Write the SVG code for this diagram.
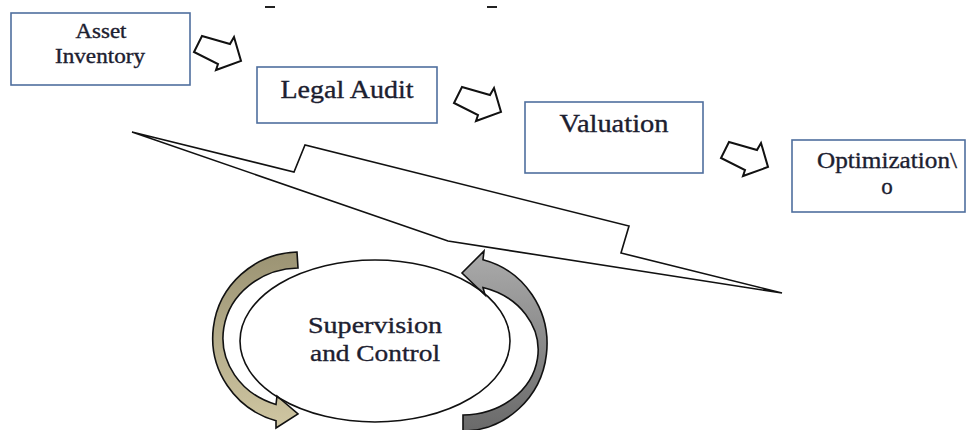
<svg xmlns="http://www.w3.org/2000/svg" width="966" height="430" viewBox="0 0 966 430">
<style>
.box{fill:#fff;stroke:#4f6f9e;stroke-width:1.6}
.lbl{font-family:"Liberation Serif","Times New Roman",serif;fill:#1c2030;stroke:#1c2030;stroke-width:0.35;text-anchor:middle}
.blk{fill:#fff;stroke:#111;stroke-width:2;stroke-linejoin:miter}
.ln{fill:none;stroke:#111;stroke-width:1.6;stroke-linejoin:miter}
</style>
<defs>
<path id="barrow" d="M0,0 L28,8 L32,1 L39,25 L14,34 L16,28 L-8,16 Z"/>
<linearGradient id="tan" x1="0" y1="0" x2="0" y2="1">
<stop offset="0" stop-color="#9b9373"/>
<stop offset="1" stop-color="#cfc6a2"/>
</linearGradient>
<linearGradient id="gray" x1="0" y1="0" x2="0" y2="1">
<stop offset="0" stop-color="#ababab"/>
<stop offset="1" stop-color="#6a6a6a"/>
</linearGradient>
</defs>
<rect width="966" height="430" fill="#fff"/>
<g id="fragments">
<line x1="265" y1="7" x2="275" y2="7" stroke="#222" stroke-width="2"/>
<line x1="487" y1="7" x2="497" y2="7" stroke="#222" stroke-width="2"/>
</g>
<g id="asset-inventory">
<rect class="box" x="11" y="13" width="179" height="72"/>
<text class="lbl" x="101" y="38" font-size="20" textLength="51" lengthAdjust="spacingAndGlyphs">Asset</text>
<text class="lbl" x="100" y="63" font-size="20" textLength="90" lengthAdjust="spacingAndGlyphs">Inventory</text>
</g>
<g id="legal-audit">
<rect class="box" x="257" y="67" width="180" height="56"/>
<text class="lbl" x="347" y="98" font-size="25" textLength="133" lengthAdjust="spacingAndGlyphs">Legal Audit</text>
</g>
<g id="valuation">
<rect class="box" x="525" y="102" width="178" height="71"/>
<text class="lbl" x="614" y="132" font-size="25" textLength="109" lengthAdjust="spacingAndGlyphs">Valuation</text>
</g>
<g id="optimization">
<rect class="box" x="792" y="140" width="173" height="72"/>
<text class="lbl" x="887" y="168" font-size="23" textLength="140" lengthAdjust="spacingAndGlyphs">Optimization\</text>
<text class="lbl" x="887" y="194" font-size="23">o</text>
</g>
<g id="connectors">
<use href="#barrow" class="blk" transform="translate(202,36)"/>
<use href="#barrow" class="blk" transform="translate(462,87)"/>
<use href="#barrow" class="blk" transform="translate(729,142)"/>
<path class="ln" d="M132,132 L294,172 L305,145 L629,226 L621,253 L782,293 L448,241 Z"/>
<path d="M297,252 A87,86 0 0 0 276,420.7 L276,428 L298,414 L277,396 L276,404.5 A77,70 0 0 1 298,268 Z" fill="url(#tan)" stroke="#111" stroke-width="1.6"/>
<path d="M463,431 A85,87 0 0 0 483,259.7 L484,251 L462,273 L485,295 L483,287.5 A76,65 0 0 1 463,415 Z" fill="url(#gray)" stroke="#111" stroke-width="1.6"/>
</g>
<g id="supervision-control">
<ellipse cx="375" cy="341" rx="135" ry="81" fill="none" stroke="#111" stroke-width="1.6"/>
<text class="lbl" x="375" y="333" font-size="24" textLength="134" lengthAdjust="spacingAndGlyphs">Supervision</text>
<text class="lbl" x="375" y="361" font-size="24" textLength="130" lengthAdjust="spacingAndGlyphs">and Control</text>
</g>
</svg>
